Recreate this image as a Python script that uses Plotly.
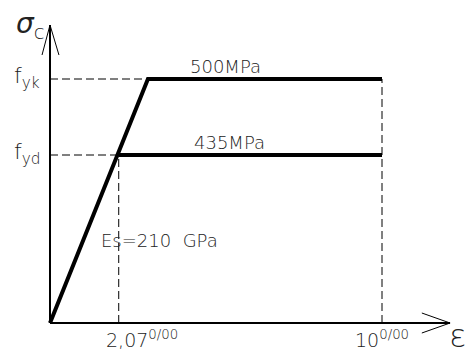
import plotly.graph_objects as go

# ---------------------------------------------------------------------------
# DATA (schematic steel stress-strain diagram)
# ---------------------------------------------------------------------------
strain_marks = [0, 2.07, 10]          # per mille, as labelled on the x axis
strain_yield_k = 2.95                 # where the fyk plateau starts (as drawn)
stress_levels = [168, 244]            # drawn heights of fyd, fyk (schematic units)
stress_labels = ["f<sub>yd</sub>", "f<sub>yk</sub>"]
plateau_labels = ["435MPa", "500MPa"]
x_tick_labels = ["2,07<sup>0/00</sup>", "10<sup>0/00</sup>"]
modulus_label = "Es=210  GPa"

# axis extents (schematic)
x_axis_end = 12.05
y_axis_end = 298

# ---------------------------------------------------------------------------
# SCALE: 33.2 px per 1 per mille, 1 px per stress unit
# page has an 8px body margin, so the figure is offset by that
# ---------------------------------------------------------------------------
PAGE_PAD = 8
W, H = 475 - PAGE_PAD, 349 - PAGE_PAD
X0, Y0, SX = 50 - PAGE_PAD, 323 - PAGE_PAD, 33.2


def at(px, py):
    """reference page pixel -> diagram coordinates (for text placement)"""
    return (px - 50) / SX, 323 - py


fig = go.Figure()
black = "black"
txt = "#222222"
font = "DejaVu Sans, sans-serif"

fyd, fyk = stress_levels
e_yd, e_max = strain_marks[1], strain_marks[2]

# dashed guides
dash_lines = [
    ([0, strain_yield_k], [fyk, fyk]),
    ([0, e_yd], [fyd, fyd]),
    ([e_yd, e_yd], [0, fyd]),
    ([e_max, e_max], [0, fyk]),
]
for xs, ys in dash_lines:
    fig.add_trace(go.Scatter(x=xs, y=ys, mode="lines",
                             line=dict(color=black, width=1, dash="8px,4px"),
                             hoverinfo="skip"))

# axes with open arrowheads
fig.add_trace(go.Scatter(x=[0, 0], y=[0, y_axis_end], mode="lines",
                         line=dict(color=black, width=2), hoverinfo="skip"))
fig.add_trace(go.Scatter(x=[-0.24, 0, 0.27], y=[y_axis_end - 30, y_axis_end, y_axis_end - 30],
                         mode="lines", line=dict(color=black, width=1), hoverinfo="skip"))
fig.add_trace(go.Scatter(x=[0, x_axis_end], y=[0, 0], mode="lines",
                         line=dict(color=black, width=2), hoverinfo="skip"))
fig.add_trace(go.Scatter(x=[x_axis_end - 0.85, x_axis_end, x_axis_end - 0.85], y=[10, 0, -10],
                         mode="lines", line=dict(color=black, width=1), hoverinfo="skip"))

# bold stress-strain curves
fig.add_trace(go.Scatter(x=[0, strain_yield_k, e_max], y=[0, fyk, fyk], mode="lines",
                         line=dict(color=black, width=4), hoverinfo="skip"))
fig.add_trace(go.Scatter(x=[e_yd, e_max], y=[fyd, fyd], mode="lines",
                         line=dict(color=black, width=4), hoverinfo="skip"))

# ---------------------------------------------------------------------------
# TEXT
# ---------------------------------------------------------------------------
ann = []
x, y = at(14, 25)
ann.append(dict(x=x, y=y, text="<i>σ</i><sub>c</sub>", font=dict(size=28)))
x, y = at(447, 338)
ann.append(dict(x=x, y=y, text="ε<sub>c</sub>", font=dict(size=32)))
for lvl, lab in zip(stress_levels, stress_labels):
    x, _ = at(12, 0)
    ann.append(dict(x=x, y=lvl + 2, text=lab, font=dict(size=22)))
for lvl, lab, px in zip(stress_levels, plateau_labels, [192, 188]):
    x, _ = at(px, 0)
    ann.append(dict(x=x, y=lvl + 13, text=lab, font=dict(size=18)))
for lab, px in zip(x_tick_labels, [104, 353]):
    x, y = at(px, 339)
    ann.append(dict(x=x, y=y, text=lab, font=dict(size=19)))
x, y = at(99, 240)
ann.append(dict(x=x, y=y, text=modulus_label, font=dict(size=18)))

for a in ann:
    a["xanchor"] = "left"
    a["showarrow"] = False
    a["font"].update(color=txt, family=font, weight=200)
    fig.add_annotation(**a)

fig.update_layout(
    width=W, height=H,
    margin=dict(l=0, r=0, t=0, b=0),
    paper_bgcolor="white", plot_bgcolor="white",
    showlegend=False,
    xaxis=dict(range=[-X0 / SX, (W - X0) / SX], visible=False, fixedrange=True),
    yaxis=dict(range=[-(H - Y0), Y0], visible=False, fixedrange=True),
)

fig.write_html("out.html")
